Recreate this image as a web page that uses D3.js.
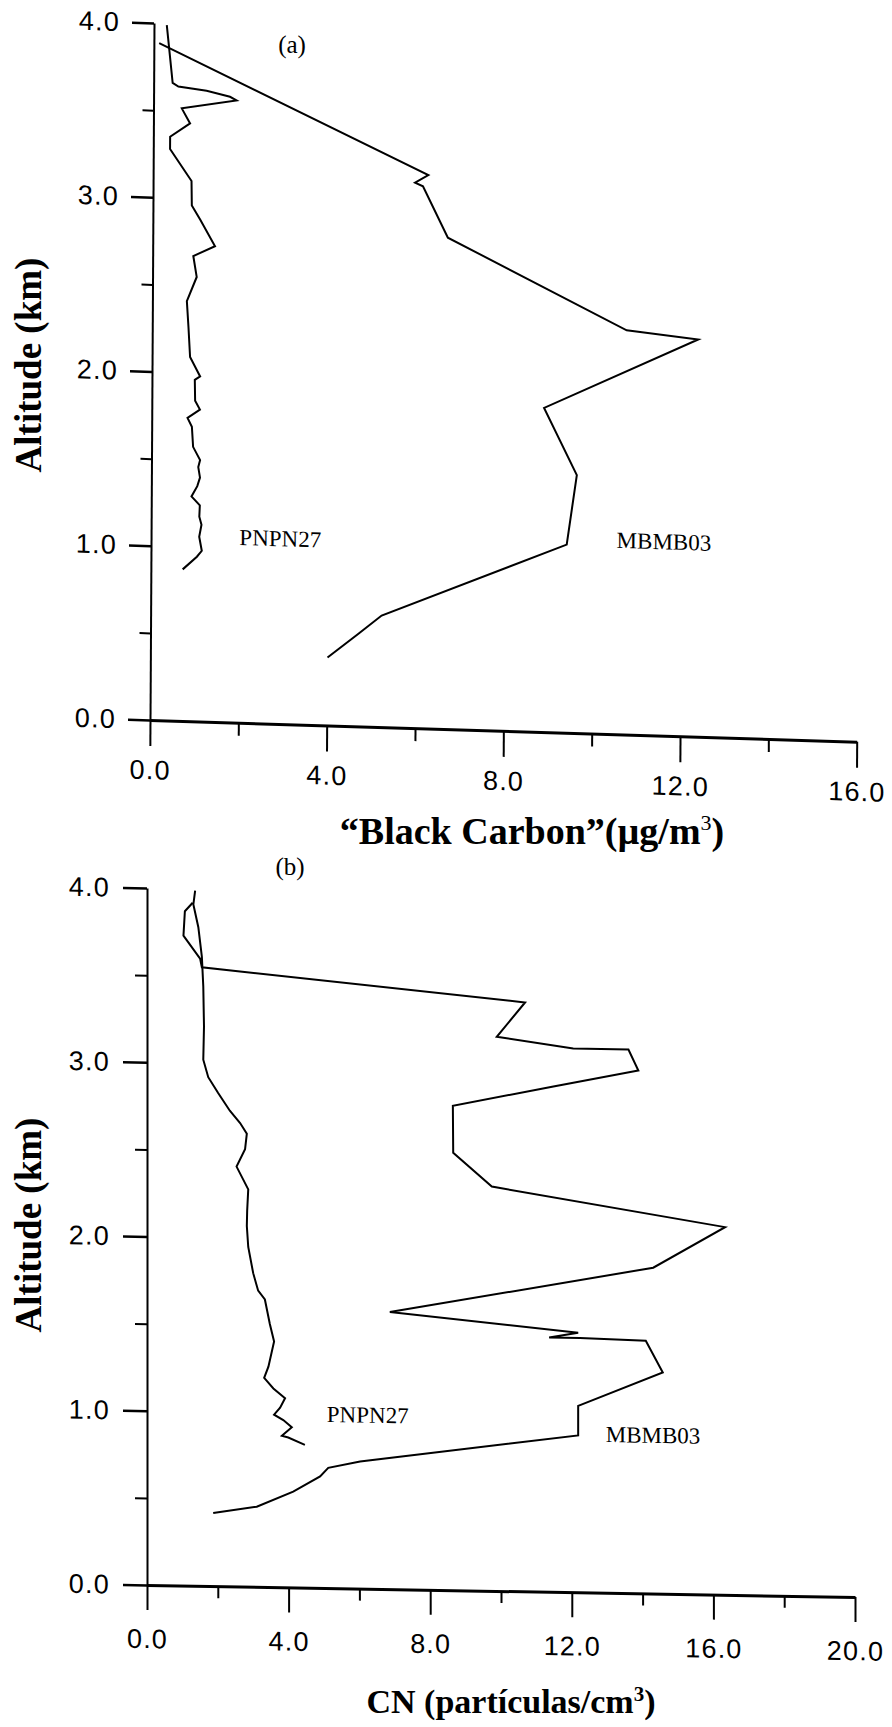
<!DOCTYPE html>
<html>
<head>
<meta charset="utf-8">
<script src="https://cdn.jsdelivr.net/npm/d3@7"></script>
<style>
  html, body { margin: 0; padding: 0; background: #fff; }
  svg { display: block; }
  .tick text { font-family: "Liberation Sans", Arial, sans-serif; font-size: 27px; letter-spacing: 1.2px; fill: #000; }
  .curve { fill: none; stroke: #000; stroke-width: 2; stroke-linejoin: miter; }
  .lbl { font-family: "Liberation Serif", "Times New Roman", serif; font-size: 23px; fill: #000; }
  .ttl { font-family: "Liberation Serif", "Times New Roman", serif; font-weight: bold; fill: #000; }
</style>
</head>
<body>
<svg id="chart" width="892" height="1727"></svg>
<script>
// ---- axis ticks ----
const altTicks = [0, 1, 2, 3, 4];
const altMinorTicks = [0.5, 1.5, 2.5, 3.5];
const bcTicks = [0, 4, 8, 12, 16];
const bcMinorTicks = [2, 6, 10, 14];
const cnTicks = [0, 4, 8, 12, 16, 20];
const cnMinorTicks = [2, 6, 10, 14, 18];

// ---- (a) Black Carbon profiles (µg/m3 vs km) ----
const bcPNPN27 = [0.29, 0.43, 0.56, 1.20, 1.73, 1.88, 0.64, 0.83, 0.38, 0.38, 0.87, 0.88, 1.07, 1.41, 0.92, 1.00, 0.78, 0.82, 0.86, 1.09, 0.97, 0.98, 1.09, 0.81, 0.91, 0.94, 1.10, 1.06, 1.10, 1.04, 0.91, 1.10, 1.09, 1.14, 1.09, 1.15, 1.04, 0.72];
const bcPNPN27Alt = [3.99, 3.66, 3.64, 3.62, 3.59, 3.57, 3.515, 3.43, 3.35, 3.28, 3.10, 2.96, 2.88, 2.73, 2.67, 2.55, 2.41, 2.26, 2.09, 1.98, 1.96, 1.84, 1.79, 1.74, 1.69, 1.575, 1.50, 1.46, 1.40, 1.35, 1.29, 1.24, 1.175, 1.13, 1.06, 0.98, 0.945, 0.87];
const bcMBMB03 = [0.12, 6.23, 5.93, 6.11, 6.68, 10.74, 12.36, 8.88, 9.63, 9.41, 5.23, 4.70, 4.01];
const bcMBMB03Alt = [3.885, 3.176, 3.13, 3.11, 2.82, 2.32, 2.28, 1.86, 1.48, 1.08, 0.64, 0.53, 0.39];

// ---- (b) CN profiles ----
const cnPNPN27 = [1.36, 1.31, 1.45, 1.55, 1.59, 1.61, 1.59, 1.73, 2.01, 2.34, 2.63, 2.82, 2.77, 2.53, 2.86, 2.83, 2.82, 2.86, 3.00, 3.14, 3.33, 3.47, 3.59, 3.43, 3.31, 3.57, 3.90, 3.76, 3.59, 3.85, 4.09, 3.81, 3.99, 4.46];
const cnPNPN27Alt = [3.99, 3.91, 3.78, 3.61, 3.44, 3.21, 3.02, 2.92, 2.83, 2.73, 2.66, 2.60, 2.51, 2.41, 2.28, 2.16, 2.07, 1.95, 1.80, 1.70, 1.65, 1.51, 1.41, 1.265, 1.20, 1.14, 1.085, 1.03, 0.99, 0.96, 0.92, 0.87, 0.86, 0.82];
const cnMBMB03 = [1.29, 1.07, 1.03, 1.50, 1.55, 10.68, 9.88, 12.04, 13.60, 13.88, 11.48, 8.64, 8.65, 9.74, 16.33, 14.30, 6.86, 12.18, 11.36, 12.23, 14.09, 14.57, 12.18, 12.18, 6.02, 5.12, 4.89, 4.13, 3.10, 1.87];
const cnMBMB03Alt = [3.92, 3.87, 3.73, 3.60, 3.55, 3.38, 3.18, 3.12, 3.12, 3.00, 2.90, 2.78, 2.51, 2.32, 2.11, 1.87, 1.59, 1.49, 1.46, 1.46, 1.45, 1.27, 1.07, 0.90, 0.73, 0.69, 0.64, 0.55, 0.46, 0.42];

const svg = d3.select("#chart");
const fmt = d3.format(".1f");

function drawPanel(p) {
  // slightly sheared frame, as on the printed page
  const g = svg.append("g")
    .attr("transform", `matrix(1,${p.shearY},${p.shearX},1,${p.x0},${p.y0})`);

  const x = d3.scaleLinear().domain([0, p.xMax]).range([0, p.w]);
  const y = d3.scaleLinear().domain([0, 4]).range([p.h, 0]);

  // minor ticks
  g.append("g").attr("transform", `translate(0,${p.h})`)
    .call(d3.axisBottom(x).tickValues(p.xMinor).tickSize(p.xMinorLen).tickFormat(""))
    .call(s => s.select(".domain").remove())
    .selectAll("line").attr("stroke", "#000").attr("stroke-width", 2);
  g.append("g")
    .call(d3.axisLeft(y).tickValues(altMinorTicks).tickSize(p.yMinorLen).tickFormat(""))
    .call(s => s.select(".domain").remove())
    .selectAll("line").attr("stroke", "#000").attr("stroke-width", 2);

  // major axes
  const xa = g.append("g").attr("transform", `translate(0,${p.h})`)
    .call(d3.axisBottom(x).tickValues(p.xTicks).tickSize(p.xMajorLen)
      .tickSizeOuter(0).tickPadding(p.xPad).tickFormat(fmt));
  xa.select(".domain").attr("stroke", "#000").attr("stroke-width", 3);
  xa.selectAll(".tick line").attr("stroke", "#000").attr("stroke-width", 2);

  const ya = g.append("g")
    .call(d3.axisLeft(y).tickValues(altTicks).tickSize(p.yMajorLen)
      .tickSizeOuter(0).tickPadding(p.yPad).tickFormat(fmt));
  ya.select(".domain").attr("stroke", "#000").attr("stroke-width", 2);
  ya.selectAll(".tick line").attr("stroke", "#000").attr("stroke-width", 2.5);

  // profiles
  const line = d3.line().x(d => x(d[0])).y(d => y(d[1]));
  p.series.forEach(s => {
    const pts = s.vals.map((v, i) => [v, s.alts[i]]);
    g.append("path").attr("class", "curve").attr("d", line(pts));
    g.append("text").attr("class", "lbl")
      .attr("x", x(s.labelAt[0])).attr("y", y(s.labelAt[1]))
      .text(s.name);
  });
}

drawPanel({
  x0: 154, y0: 23, shearX: -0.00574, shearY: 0.0307,
  w: 706.7, h: 697, xMax: 16,
  xTicks: bcTicks, xMinor: bcMinorTicks,
  xMajorLen: 26, xMinorLen: 13, xPad: 14,
  yMajorLen: 22, yMinorLen: 11, yPad: 12,
  series: [
    { name: "PNPN27", vals: bcPNPN27, alts: bcPNPN27Alt, labelAt: [2.0, 1.02] },
    { name: "MBMB03", vals: bcMBMB03, alts: bcMBMB03Alt, labelAt: [10.54, 1.07] }
  ]
});

drawPanel({
  x0: 147, y0: 888, shearX: 0, shearY: 0.01695,
  w: 708, h: 697, xMax: 20,
  xTicks: cnTicks, xMinor: cnMinorTicks,
  xMajorLen: 25, xMinorLen: 12, xPad: 19,
  yMajorLen: 24, yMinorLen: 12, yPad: 13,
  series: [
    { name: "PNPN27", vals: cnPNPN27, alts: cnPNPN27Alt, labelAt: [5.08, 0.953] },
    { name: "MBMB03", vals: cnMBMB03, alts: cnMBMB03Alt, labelAt: [12.96, 0.865] }
  ]
});

// panel tags
svg.append("text").attr("class", "lbl").attr("x", 292).attr("y", 53)
  .attr("text-anchor", "middle").style("font-size", "25px").text("(a)");
svg.append("text").attr("class", "lbl").attr("x", 290).attr("y", 875)
  .attr("text-anchor", "middle").style("font-size", "25px").text("(b)");

// y-axis titles
[365, 1225].forEach(cy => {
  svg.append("text").attr("class", "ttl")
    .attr("transform", `translate(41,${cy}) rotate(-90)`)
    .attr("text-anchor", "middle").style("font-size", "37px")
    .text("Altitude (km)");
});

// x-axis titles
const tA = svg.append("text").attr("class", "ttl")
  .attr("x", 532).attr("y", 844).attr("text-anchor", "middle").style("font-size", "38px");
tA.append("tspan").text("\u201CBlack Carbon\u201D(\u00B5g/m");
tA.append("tspan").attr("dy", -14).style("font-size", "22px").style("font-weight", "normal").text("3");
tA.append("tspan").attr("dy", 14).text(")");

const tB = svg.append("text").attr("class", "ttl")
  .attr("x", 511).attr("y", 1713).attr("text-anchor", "middle").style("font-size", "34px");
tB.append("tspan").text("CN (partículas/cm");
tB.append("tspan").attr("dy", -12).style("font-size", "21px").text("3");
tB.append("tspan").attr("dy", 12).text(")");
</script>
</body>
</html>
